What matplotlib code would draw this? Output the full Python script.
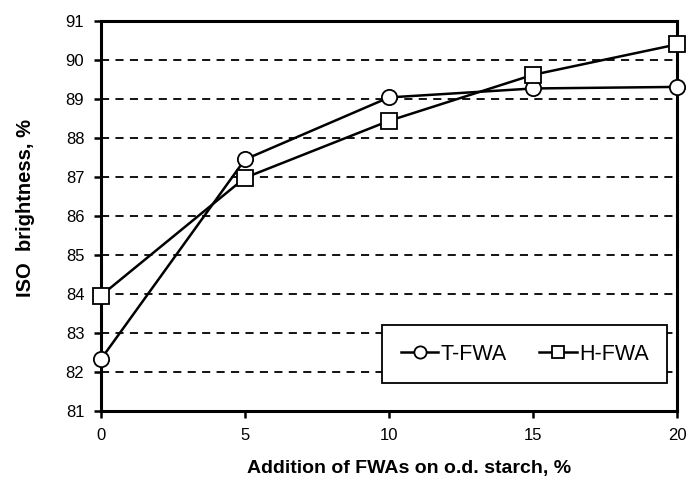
import matplotlib
matplotlib.use("Agg")
import matplotlib.pyplot as plt

plt.rcParams['font.family'] = ['Liberation Sans', 'DejaVu Sans']

x = [0, 5, 10, 15, 20]
t_fwa = [82.33, 87.45, 89.04, 89.27, 89.31]
h_fwa = [83.96, 86.98, 88.44, 89.62, 90.40]
yticks = list(range(81, 92))
xticks = [0, 5, 10, 15, 20]

fig = plt.figure(figsize=(6.87, 4.79), dpi=100)
ax = fig.add_axes([101/687, 1-411/479, 576/687, 390/479])

for yv in range(82, 91):
    ax.axhline(yv, color='black', lw=1.3, ls=(0, (4.5, 3.5)), zorder=1)

ax.plot(x, t_fwa, color='black', lw=1.8, marker='o', ms=11, mfc='white',
        mec='black', mew=1.3, label='T-FWA', zorder=3, clip_on=False)
ax.plot(x, h_fwa, color='black', lw=1.8, marker='s', ms=11, mfc='white',
        mec='black', mew=1.3, label='H-FWA', zorder=3, clip_on=False)

ax.set_xlim(0, 20)
ax.set_ylim(81, 91)
ax.set_xticks(xticks)
ax.set_yticks(yticks)
ax.tick_params(direction='out', length=5, width=1.8, labelsize=12, colors='black', pad=7)
for s in ax.spines.values():
    s.set_linewidth(2.2)
    s.set_color('black')

ax.set_xlabel('Addition of FWAs on o.d. starch, %', fontsize=14, fontweight='bold')
ax.xaxis.set_label_coords((409-101)/576, -(468-411)/390)
ax.xaxis.label.set_va('center')
ax.set_ylabel('ISO  brightness, %', fontsize=14.5, fontweight='bold')
ax.yaxis.set_label_coords(-(101-26)/576, (411-208)/390)
ax.yaxis.label.set_va('center')

leg = ax.legend(loc='lower right', bbox_to_anchor=(566/576, (411-383)/390), ncol=2,
                fontsize=15.5, frameon=True, fancybox=False, handlelength=1.75,
                handletextpad=0.1, columnspacing=1.5, borderpad=0.85,
                borderaxespad=0, markerscale=0.8, framealpha=1.0)
leg.get_frame().set_edgecolor('black')
leg.get_frame().set_linewidth(1.3)

fig.savefig('out.png', dpi=100)
